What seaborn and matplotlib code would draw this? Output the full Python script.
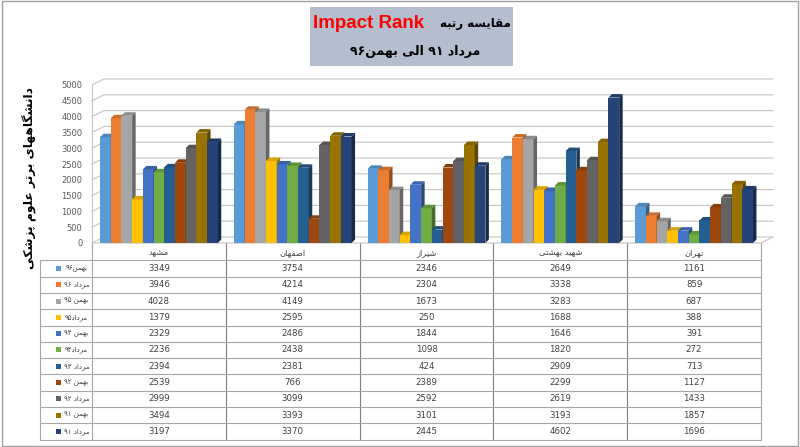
import re
import pandas as pd
import numpy as np
import matplotlib
matplotlib.use("Agg")
import matplotlib.pyplot as plt
import matplotlib.colors as mcolors
from matplotlib.patches import Polygon, Rectangle
import seaborn as sns

# ---- data ----
universities = ['مشهد', 'اصفهان', 'شیراز', 'شهید بهشتی', 'تهران']
periods = ['بهمن۹۶', 'مرداد ۹۶', 'بهمن ۹۵', 'مرداد۹۵', 'بهمن ۹۴', 'مرداد۹۴',
           'مرداد ۹۳', 'بهمن ۹۲', 'مرداد ۹۲', 'بهمن ۹۱', 'مرداد ۹۱']

bahman96 = [3349, 3754, 2346, 2649, 1161]
mordad96 = [3946, 4214, 2304, 3338, 859]
bahman95 = [4028, 4149, 1673, 3283, 687]
mordad95 = [1379, 2595, 250, 1688, 388]
bahman94 = [2329, 2486, 1844, 1646, 391]
mordad94 = [2236, 2438, 1098, 1820, 272]
mordad93 = [2394, 2381, 424, 2909, 713]
bahman92 = [2539, 766, 2389, 2299, 1127]
mordad92 = [2999, 3099, 2592, 2619, 1433]
bahman91 = [3494, 3393, 3101, 3193, 1857]
mordad91 = [3197, 3370, 2445, 4602, 1696]

series_values = [bahman96, mordad96, bahman95, mordad95, bahman94, mordad94,
                 mordad93, bahman92, mordad92, bahman91, mordad91]

colors = ['#5B9BD5', '#ED7D31', '#A5A5A5', '#FFC000', '#4472C4', '#70AD47',
          '#255E91', '#9E480E', '#636363', '#997300', '#264478']

yticks = list(range(0, 5001, 500))


# ---- tiny persian shaping (matplotlib has no bidi / shaping) ----
FORMS = {
    '\u0627': '\uFE8D\uFE8E', '\u062F': '\uFEA9\uFEAA', '\u0631': '\uFEAD\uFEAE',
    '\u0632': '\uFEAF\uFEB0', '\u0648': '\uFEED\uFEEE',
    '\u0628': '\uFE8F\uFE90\uFE91\uFE92', '\u067E': '\uFB56\uFB57\uFB58\uFB59',
    '\u062A': '\uFE95\uFE96\uFE97\uFE98', '\u0633': '\uFEB1\uFEB2\uFEB3\uFEB4',
    '\u0634': '\uFEB5\uFEB6\uFEB7\uFEB8', '\u0635': '\uFEB9\uFEBA\uFEBB\uFEBC',
    '\u0639': '\uFEC9\uFECA\uFECB\uFECC', '\u0641': '\uFED1\uFED2\uFED3\uFED4',
    '\u0642': '\uFED5\uFED6\uFED7\uFED8', '\u06A9': '\uFB8E\uFB8F\uFB90\uFB91',
    '\u0643': '\uFB8E\uFB8F\uFB90\uFB91', '\u06AF': '\uFB92\uFB93\uFB94\uFB95',
    '\u0644': '\uFEDD\uFEDE\uFEDF\uFEE0', '\u0645': '\uFEE1\uFEE2\uFEE3\uFEE4',
    '\u0646': '\uFEE5\uFEE6\uFEE7\uFEE8', '\u0647': '\uFEE9\uFEEA\uFEEB\uFEEC',
    '\u06CC': '\uFBFC\uFBFD\uFBFE\uFBFF', '\u064A': '\uFBFC\uFBFD\uFBFE\uFBFF',
}


def shape(s):
    out = []
    for i, c in enumerate(s):
        f = FORMS.get(c)
        if f is None:
            out.append(c)
            continue
        prev = s[i - 1] if i > 0 else ''
        nxt = s[i + 1] if i + 1 < len(s) else ''
        jp = prev in FORMS and len(FORMS[prev]) == 4
        jn = len(f) == 4 and nxt in FORMS
        if jp and jn:
            out.append(f[3])
        elif jp:
            out.append(f[1])
        elif jn:
            out.append(f[2])
        else:
            out.append(f[0])
    return ''.join(out)


def fa(s):
    tokens = re.findall(r'[0-9\u06F0-\u06F9]+|[^0-9\u06F0-\u06F9]+', shape(s))
    return ''.join(t if re.match(r'[0-9\u06F0-\u06F9]', t) else t[::-1]
                   for t in reversed(tokens))


def shade(c, k):
    r, g, b = mcolors.to_rgb(c)
    return (r * k, g * k, b * k)


rows = []
for p, vals in zip(periods, series_values):
    for u, v in zip(universities, vals):
        rows.append({'university': u, 'period': p, 'value': v})
df = pd.DataFrame(rows)

sns.set_theme(style='white')
plt.rcParams['font.family'] = ['DejaVu Sans']

W, H = 800, 447
fig = plt.figure(figsize=(8, 4.47), dpi=100)

# background canvas in pixel coordinates (title box, table, labels)
canvas = fig.add_axes([0, 0, 1, 1], zorder=0)
canvas.set_xlim(0, W)
canvas.set_ylim(H, 0)
canvas.axis('off')

# chart area
x_left, x_right, y_floor, y_top = 92, 761, 243, 85
ax = fig.add_axes([x_left / W, 1 - y_floor / H, (x_right - x_left) / W,
                   (y_floor - y_top) / H], zorder=1)
ax.patch.set_alpha(0)

sns.barplot(data=df, x='university', y='value', hue='period', order=universities,
            hue_order=periods, palette=colors, width=0.88, saturation=1,
            legend=False, ax=ax, edgecolor='none')

ax.set_xlim(-0.5, 4.5)
ax.set_ylim(0, 5000)
for s in ax.spines.values():
    s.set_visible(False)
ax.set_xticks([])
ax.set_xlabel('')
ax.set_ylabel('')
ax.set_yticks(yticks)
ax.set_yticklabels([str(t) for t in yticks], fontsize=6, color='#595959')
ax.tick_params(axis='y', length=0, pad=7)

# pixel -> data conversion
dxp = 5.0 / (x_right - x_left)
dyp = 5000.0 / (y_floor - y_top)

# back wall with perspective
wall_dx, wall_dy = 12 * dxp, 6 * dyp
grid_c = '#c4c4c4'
for t in yticks:
    ax.plot([-0.5, -0.5 + wall_dx, 4.5 + wall_dx], [t, t + wall_dy, t + wall_dy],
            color=grid_c, lw=0.8, zorder=0.5, clip_on=False)
ax.plot([-0.5, -0.5], [0, 5000], color=grid_c, lw=0.8, zorder=0.5, clip_on=False)
ax.plot([-0.5, 4.5, 4.5 + wall_dx], [0, 0, wall_dy], color=grid_c, lw=0.8,
        zorder=0.5, clip_on=False)

# 3d look on each bar
bar_dx, bar_dy = 3.5 * dxp, 3.5 * dyp
bars = sorted(ax.patches, key=lambda p: p.get_x())
for k, p in enumerate(bars):
    x0, w, h = p.get_x(), p.get_width(), p.get_height()
    c = p.get_facecolor()
    p.set_zorder(2 + k * 3)
    top = Polygon([[x0, h], [x0 + w, h], [x0 + w + bar_dx, h + bar_dy],
                   [x0 + bar_dx, h + bar_dy]], closed=True, facecolor=shade(c, 0.85),
                  edgecolor='none', zorder=2 + k * 3 + 1, clip_on=False)
    side = Polygon([[x0 + w, 0], [x0 + w + bar_dx, bar_dy],
                    [x0 + w + bar_dx, h + bar_dy], [x0 + w, h]], closed=True,
                   facecolor=shade(c, 0.62), edgecolor='none',
                   zorder=2 + k * 3 + 1, clip_on=False)
    ax.add_patch(top)
    ax.add_patch(side)

# ---- data table ----
line_c = '#a6a6a6'
col_w = (x_right - x_left) / len(universities)
row_top = 260.3
row_h = 16.3
n_rows = len(periods)
table_bottom = row_top + n_rows * row_h
leg_left = 40

for i in range(len(universities) + 1):
    xb = x_left + i * col_w
    canvas.plot([xb, xb], [y_floor, table_bottom], color='#7f7f7f' if 0 < i < 5 else line_c,
                lw=0.8)
canvas.plot([leg_left, leg_left], [row_top, table_bottom], color=line_c, lw=0.8)
for r in range(n_rows + 1):
    yb = row_top + r * row_h
    canvas.plot([leg_left, x_right], [yb, yb], color=line_c, lw=0.8)

for i, u in enumerate(universities):
    cx = x_left + (i + 0.5) * col_w
    canvas.text(cx, (y_floor + row_top) / 2 + 1, fa(u), ha='center', va='center',
                fontsize=6, color='#404040')
    for r, vals in enumerate(series_values):
        canvas.text(cx, row_top + (r + 0.5) * row_h, str(vals[i]), ha='center',
                    va='center', fontsize=6.2, color='#404040')

for r, (p, c) in enumerate(zip(periods, colors)):
    cy = row_top + (r + 0.5) * row_h
    canvas.add_patch(Rectangle((56, cy - 2.5), 5, 5, facecolor=c, edgecolor='none'))
    canvas.text(76.5, cy, fa(p), ha='center', va='center', fontsize=5,
                color='#404040')

# ---- y label ----
canvas.text(30, 178, fa('دانشگاههای برتر علوم پزشکی'), rotation=90, ha='center',
            va='center', fontsize=8.8, fontweight='bold', color='black')

# ---- title box ----
canvas.add_patch(Rectangle((310, 7), 203, 59, facecolor='#b4bece', edgecolor='none'))
canvas.text(313, 24, 'Impact Rank', ha='left', va='center', fontsize=13.5,
            fontweight='bold', color='#ff0000', family=['Liberation Sans'])
canvas.text(511, 24, fa('مقایسه رتبه'), ha='right', va='center', fontsize=8.5,
            fontweight='bold', color='black')
canvas.text(415, 51, fa('مرداد ۹۱ الی بهمن۹۶'), ha='center', va='center',
            fontsize=9, fontweight='bold', color='black')

# outer frame
fig.patches.append(Rectangle((0.002, 0.003), 0.996, 0.994, transform=fig.transFigure,
                             fill=False, edgecolor='#a0a0a0', lw=1))

fig.savefig('out.png', dpi=100)
